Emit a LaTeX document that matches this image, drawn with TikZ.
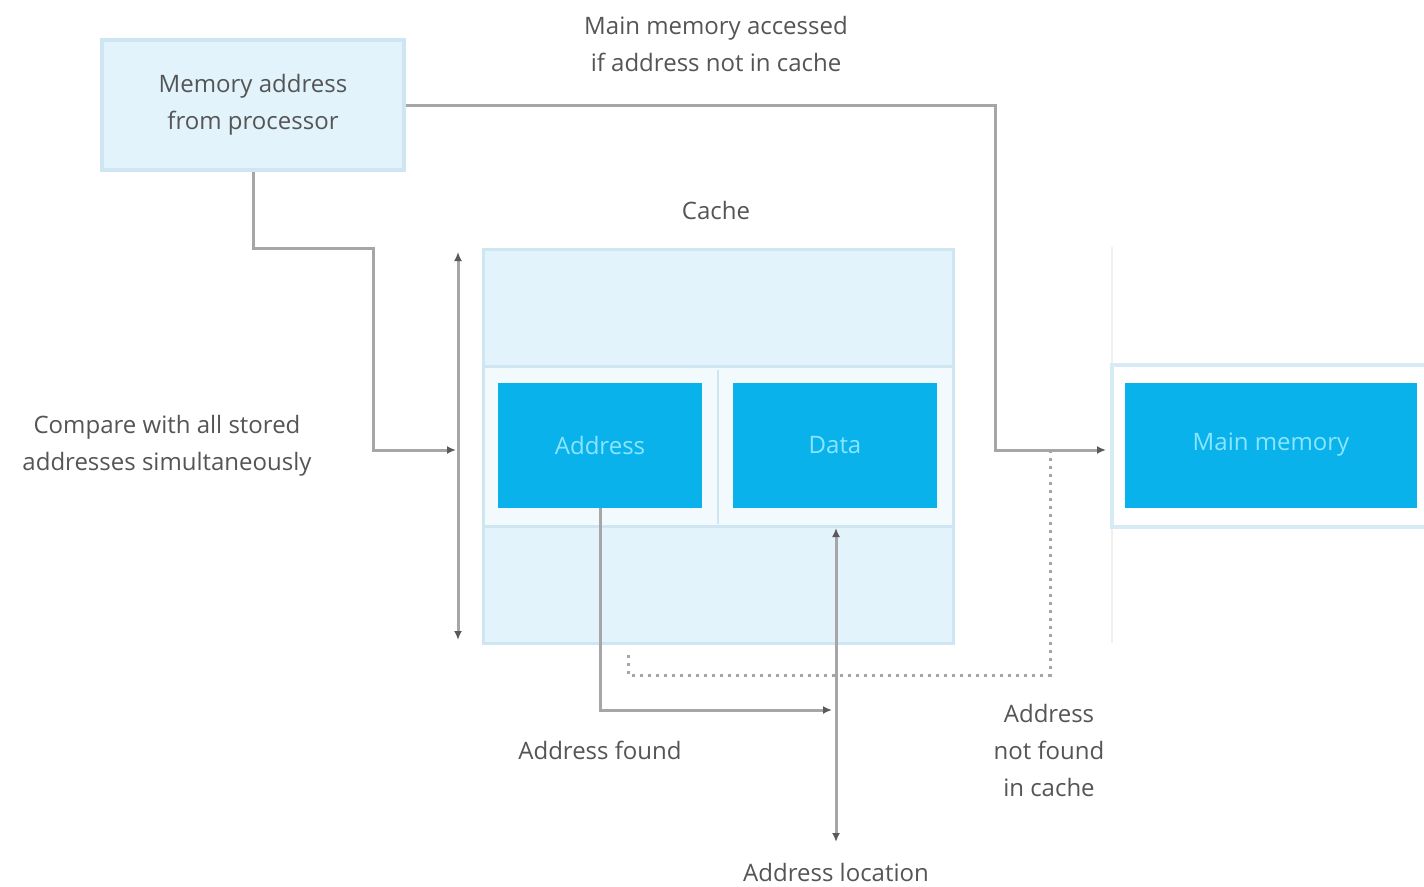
\documentclass[tikz,border=0pt]{standalone}
\usepackage{fontspec}
\setmainfont{Open Sans}
\usetikzlibrary{arrows.meta}
\definecolor{dblue}{HTML}{0AB2EC}
\definecolor{lblue}{HTML}{E2F3FC}
\definecolor{bblue}{HTML}{CDE6F1}
\definecolor{lgrey}{HTML}{A6A6A6}
\definecolor{tipgrey}{HTML}{5A5A5A}
\definecolor{tgrey}{HTML}{555555}
\definecolor{ctext}{HTML}{8AE6FF}
\begin{document}
\begin{tikzpicture}[x=1pt,y=-1pt,
  lbl/.style={text=tgrey, font=\fontsize{24}{37}\selectfont, align=center, inner sep=0pt},
  btext/.style={text=ctext, font=\fontsize{24}{37}\selectfont, align=center, inner sep=0pt},
  conn/.style={draw=lgrey, line width=3pt},
  tipend/.style={-{Latex[length=9pt,width=8pt,color=tipgrey]}},
  tipboth/.style={{Latex[length=9pt,width=8pt,color=tipgrey]}-{Latex[length=9pt,width=8pt,color=tipgrey]}},
  dotconn/.style={draw=lgrey, line width=3pt, dash pattern=on 3pt off 5pt},
  darkbox/.style={fill=dblue, draw=none, minimum width=204pt, minimum height=125pt, btext},
]
\useasboundingbox (0,0) rectangle (1424,886);
\fill[white] (0,0) rectangle (1424,886);

% processor box
\node[draw=bblue, fill=lblue, line width=4pt, minimum width=302pt, minimum height=130pt, lbl] (proc) at (253,105) {Memory address\\from processor};

% cache structure
\node[lbl] (cachelbl) at (716,210) {Cache};
\node[draw=bblue, fill=lblue, line width=3pt, minimum width=470pt, minimum height=394pt] (cache) at (718.5,446.5) {};
\node[draw=bblue, fill=white!60!lblue, line width=3pt, minimum width=470pt, minimum height=160pt] (band) at (718.5,446) {};
\draw[bblue, line width=2pt] (718,370) -- (718,524);
\node[darkbox] (addr) at (600,445.5) {Address};
\node[darkbox] (data) at (835,445.5) {Data};

% main memory
\draw[gray!12, line width=2pt] (1112,247) -- (1112,643);
\node[draw=bblue!80, fill=white, line width=4pt, minimum width=330pt, minimum height=162pt] (mmband) at (1277,446) {};
\node[darkbox, minimum width=292pt] (mm) at (1271,445) {Main memory};

% labels
\node[lbl] (toplbl) at (716,44) {Main memory accessed\\if address not in cache};
\node[lbl] (cmplbl) at (167,446) {Compare with all stored\\addresses simultaneously};
\node[lbl] (foundlbl) at (600,750) {Address found};
\node[lbl] (nflbl) at (1049,750) {Address\\not found\\in cache};
\node[lbl] (loclbl) at (836,872) {Address location};

% coordinates
\coordinate (j1) at (995,105);
\coordinate (mmin) at (1106,450);
\coordinate (j2) at (253,248);
\coordinate (j3) at (373,248);
\coordinate (brin) at (456,450);
\coordinate (brt) at (458,252);
\coordinate (brb) at (458,640);
\coordinate (foundend) at (832,710);
\coordinate (locb) at (836,842);
\coordinate (loct) at (836,528);
\coordinate (d1) at (628,655);
\coordinate (d2) at (1050,675);
\coordinate (d3) at (1050,452);

% connectors
\draw[conn, tipend] (proc.east |- j1) -- (j1) |- (mmin);
\draw[conn, tipend] (proc.south) -- (j2) -- (j3) |- (brin);
\draw[conn, tipboth] (brt) -- (brb);
\draw[conn, tipend] (addr.south) |- (foundend);
\draw[conn, tipboth] (locb) -- (loct);
\draw[dotconn] (d1) |- (d2) -- (d3);
\end{tikzpicture}
\end{document}
